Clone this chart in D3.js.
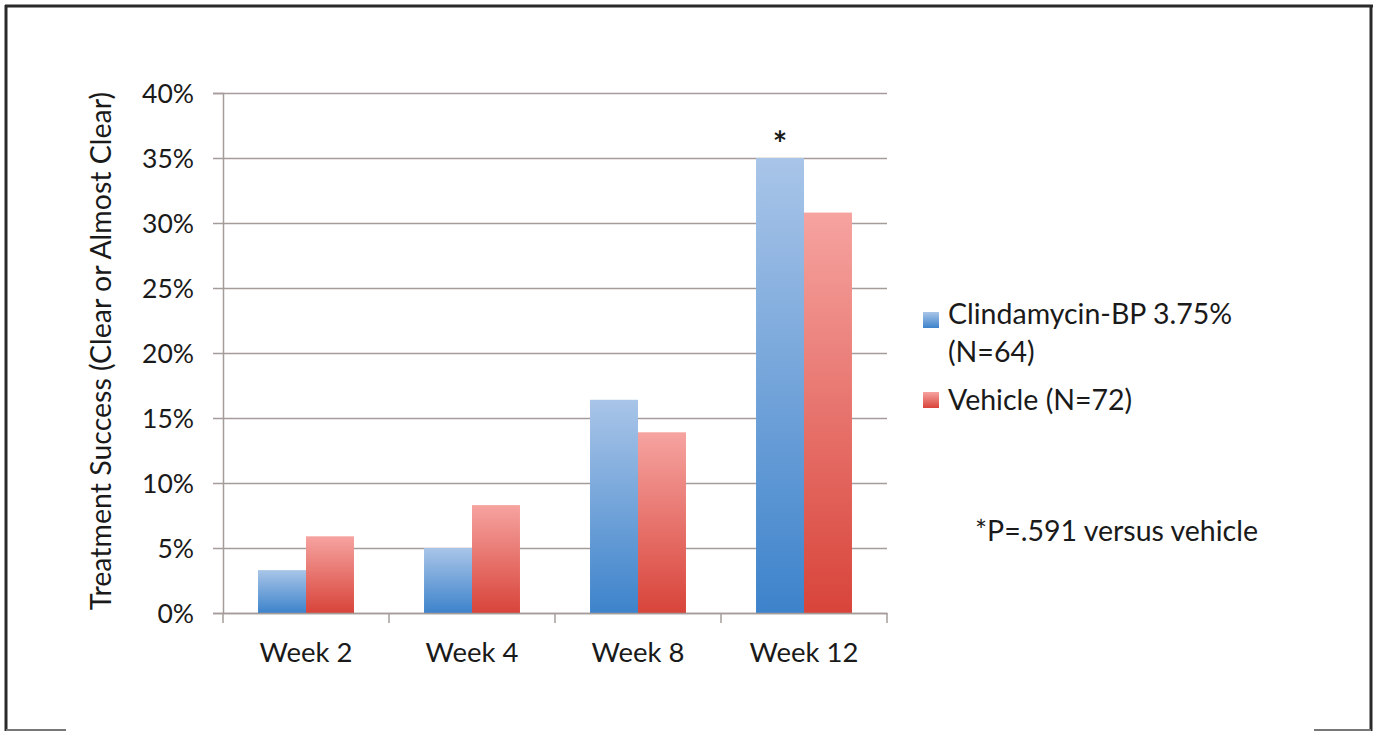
<!DOCTYPE html>
<html><head><meta charset="utf-8">
<script src="https://cdn.jsdelivr.net/npm/d3@7"></script>
<style>body{margin:0;background:#fff}svg{display:block}text{font-family:Lato,"Open Sans",sans-serif;fill:#1a1a1a}</style>
</head><body>
<svg id="c" width="1378" height="731"></svg>
<script>
const categories = ["Week 2","Week 4","Week 8","Week 12"];
const seriesNames = ["Clindamycin-BP 3.75%\n(N=64)","Vehicle (N=72)"];
const clinda = [3.3, 5.0, 16.4, 35.0];
const vehicle = [5.9, 8.3, 13.9, 30.8];
const yTicks = [0,5,10,15,20,25,30,35,40];
const footnote = "*P=.591 versus vehicle";

const svg = d3.select("#c");
// frame
const fr = svg.append("g").attr("stroke","#2a2a2a").attr("stroke-width",3);
fr.append("line").attr("x1",5).attr("x2",1373).attr("y1",6).attr("y2",6);
fr.append("line").attr("x1",6).attr("x2",6).attr("y1",5).attr("y2",731);
fr.append("line").attr("x1",1371).attr("x2",1371).attr("y1",5).attr("y2",731);
fr.append("line").attr("x1",6).attr("x2",66).attr("y1",730).attr("y2",730).attr("stroke","#777").attr("stroke-width",2);
fr.append("line").attr("x1",1314).attr("x2",1371).attr("y1",730).attr("y2",730).attr("stroke","#777").attr("stroke-width",2);

const x0=223,x1=887,yTop=93,yBot=613;
const x = d3.scaleBand().domain(categories).range([x0,x1]).paddingInner(0).paddingOuter(0);
const y = d3.scaleLinear().domain([0,40]).range([yBot,yTop]);
const xs = d3.scaleBand().domain([0,1]).range([0,x.bandwidth()]).paddingOuter(0.73).paddingInner(0);

const defs = svg.append("defs");
function grad(id,top,bot){const g=defs.append("linearGradient").attr("id",id).attr("x1",0).attr("y1",0).attr("x2",0).attr("y2",1);
 g.append("stop").attr("offset","0%").attr("stop-color",top);g.append("stop").attr("offset","100%").attr("stop-color",bot);}
grad("gb","#a9c5e8","#3d83cb");
grad("gr","#f6a3a0","#d8443a");

const ax = d3.axisLeft(y).tickValues(yTicks).tickSize(10).tickFormat(d=>d+"%");
const gy = svg.append("g").attr("transform",`translate(${x0},0)`).call(ax);
gy.select(".domain").attr("stroke","#a59c9a").attr("stroke-width",1.5);
gy.selectAll(".tick line").attr("stroke","#a59c9a").attr("stroke-width",1.5).attr("x2",x1-x0).attr("x1",-10);
gy.selectAll(".tick text").attr("font-size",26.5).attr("font-family","Lato,sans-serif").attr("fill","#1a1a1a").attr("x",-29).attr("dy","0.36em");

const data=[clinda,vehicle];
const fills=["url(#gb)","url(#gr)"];
categories.forEach((c,i)=>{
  [0,1].forEach(s=>{
    const v=data[s][i];
    svg.append("rect").attr("x",x(c)+xs(s)).attr("width",xs.bandwidth()).attr("y",y(v)).attr("height",yBot-y(v)).attr("fill",fills[s]);
  });
});

const axb = d3.axisBottom(x).tickSize(0).tickPadding(29);
const gx = svg.append("g").attr("transform",`translate(0,${yBot})`).call(axb);
gx.select(".domain").attr("stroke","#a59c9a").attr("stroke-width",1.5);
gx.selectAll(".tick text").attr("font-size",27.5).attr("font-family","Lato,sans-serif").attr("fill","#1a1a1a");
const bounds = categories.map(c=>x(c)).concat([x1]);
svg.append("g").selectAll("line").data(bounds).join("line")
  .attr("x1",d=>d).attr("x2",d=>d).attr("y1",yBot).attr("y2",yBot+10).attr("stroke","#a59c9a").attr("stroke-width",1.5);

svg.append("text").attr("x",x("Week 12")+xs(0)+xs.bandwidth()/2).attr("y",y(clinda[3])-2).attr("text-anchor","middle").attr("font-size",34).attr("font-weight","bold").text("*");

svg.append("text").attr("transform",`translate(111,${(yTop+yBot)/2-2}) rotate(-90)`).attr("text-anchor","middle").attr("font-size",28.5).text("Treatment Success (Clear or Almost Clear)");

const lg = svg.append("g");
lg.append("rect").attr("x",923).attr("y",312).attr("width",16).attr("height",16).attr("fill","url(#gb)");
lg.append("rect").attr("x",923).attr("y",392).attr("width",16).attr("height",16).attr("fill","url(#gr)");
const l1 = seriesNames[0].split("\n");
lg.append("text").attr("x",948).attr("y",324).attr("font-size",28.5).text(l1[0]);
lg.append("text").attr("x",948).attr("y",362).attr("font-size",28.5).text(l1[1]);
lg.append("text").attr("x",948).attr("y",410).attr("font-size",28.5).text(seriesNames[1]);

svg.append("text").attr("x",975).attr("y",541).attr("font-size",28.5).text(footnote);
</script>
</body></html>
